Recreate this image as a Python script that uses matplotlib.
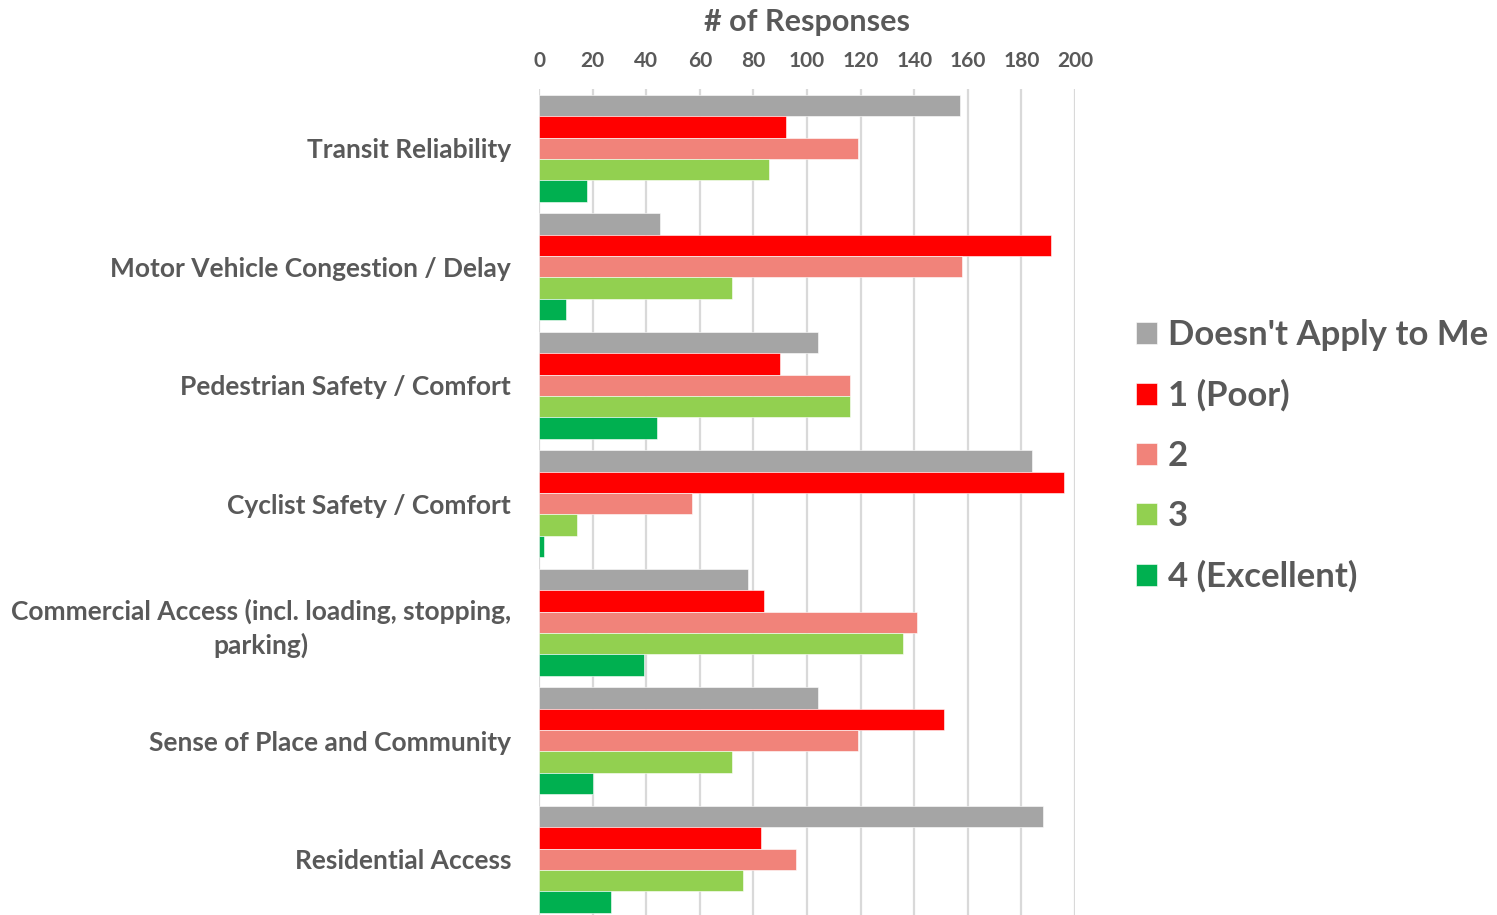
import matplotlib.pyplot as plt
import numpy as np

categories = [
    "Transit Reliability",
    "Motor Vehicle Congestion / Delay",
    "Pedestrian Safety / Comfort",
    "Cyclist Safety / Comfort",
    "Commercial Access (incl. loading, stopping,\nparking)",
    "Sense of Place and Community",
    "Residential Access",
]
series_names = ["Doesn't Apply to Me", "1 (Poor)", "2", "3", "4 (Excellent)"]
not_apply = [157, 45, 104, 184, 78, 104, 188]
poor = [92, 191, 90, 196, 84, 151, 83]
two = [119, 158, 116, 57, 141, 119, 96]
three = [86, 72, 116, 14, 136, 72, 76]
excellent = [18, 10, 44, 2, 39, 20, 27]
xticks = list(range(0, 201, 20))

colors = ["#A5A5A5", "#FF0000", "#F1837A", "#92D050", "#00B050"]
text_color = "#595959"
font = "Lato"

fig = plt.figure(figsize=(14.97, 9.15), dpi=100)
ax = fig.add_axes([539 / 1497, -0.0038, 536 / 1497, 0.9066])

y = np.arange(len(categories))
h = 0.18
for i, (vals, name, c) in enumerate(zip([not_apply, poor, two, three, excellent], series_names, colors)):
    ax.barh(y - 0.36 + i * h, vals, height=h, color=c, label=name,
            edgecolor="white", linewidth=0.4, zorder=3)

ax.set_xlim(0, 200)
ax.set_ylim(6.5, -0.5)
ax.set_xticks(xticks)
ax.xaxis.tick_top()
ax.xaxis.set_label_position("top")
ax.set_xlabel("# of Responses", fontsize=22, fontweight="bold", color=text_color,
              family=font, labelpad=14)
ax.set_yticks(y)
ax.set_yticklabels(categories)
for lab in ax.get_yticklabels():
    lab.set_multialignment("center")
    lab.set_linespacing(1.4)
    lab.set_fontsize(19)
    lab.set_fontweight("bold")
    lab.set_color(text_color)
    lab.set_family(font)
for lab in ax.get_xticklabels():
    lab.set_fontsize(15)
    lab.set_fontweight("bold")
    lab.set_color(text_color)
    lab.set_family(font)
ax.tick_params(axis="both", length=0)
ax.tick_params(axis="x", pad=13)
ax.tick_params(axis="y", pad=20)
ax.grid(axis="x", color="#D9D9D9", linewidth=1.6, zorder=0)
for s in ax.spines.values():
    s.set_visible(False)

handles, labels = ax.get_legend_handles_labels()
leg = fig.legend(handles, labels, loc="upper left", bbox_to_anchor=(1105 / 1497, 1 - 288 / 915),
                 frameon=False, prop={"family": font, "weight": "bold", "size": 25},
                 handlelength=0.6, handleheight=0.6, handletextpad=0.3, labelspacing=0.81)
for t in leg.get_texts():
    t.set_color(text_color)

fig.savefig("out.png", dpi=100)
